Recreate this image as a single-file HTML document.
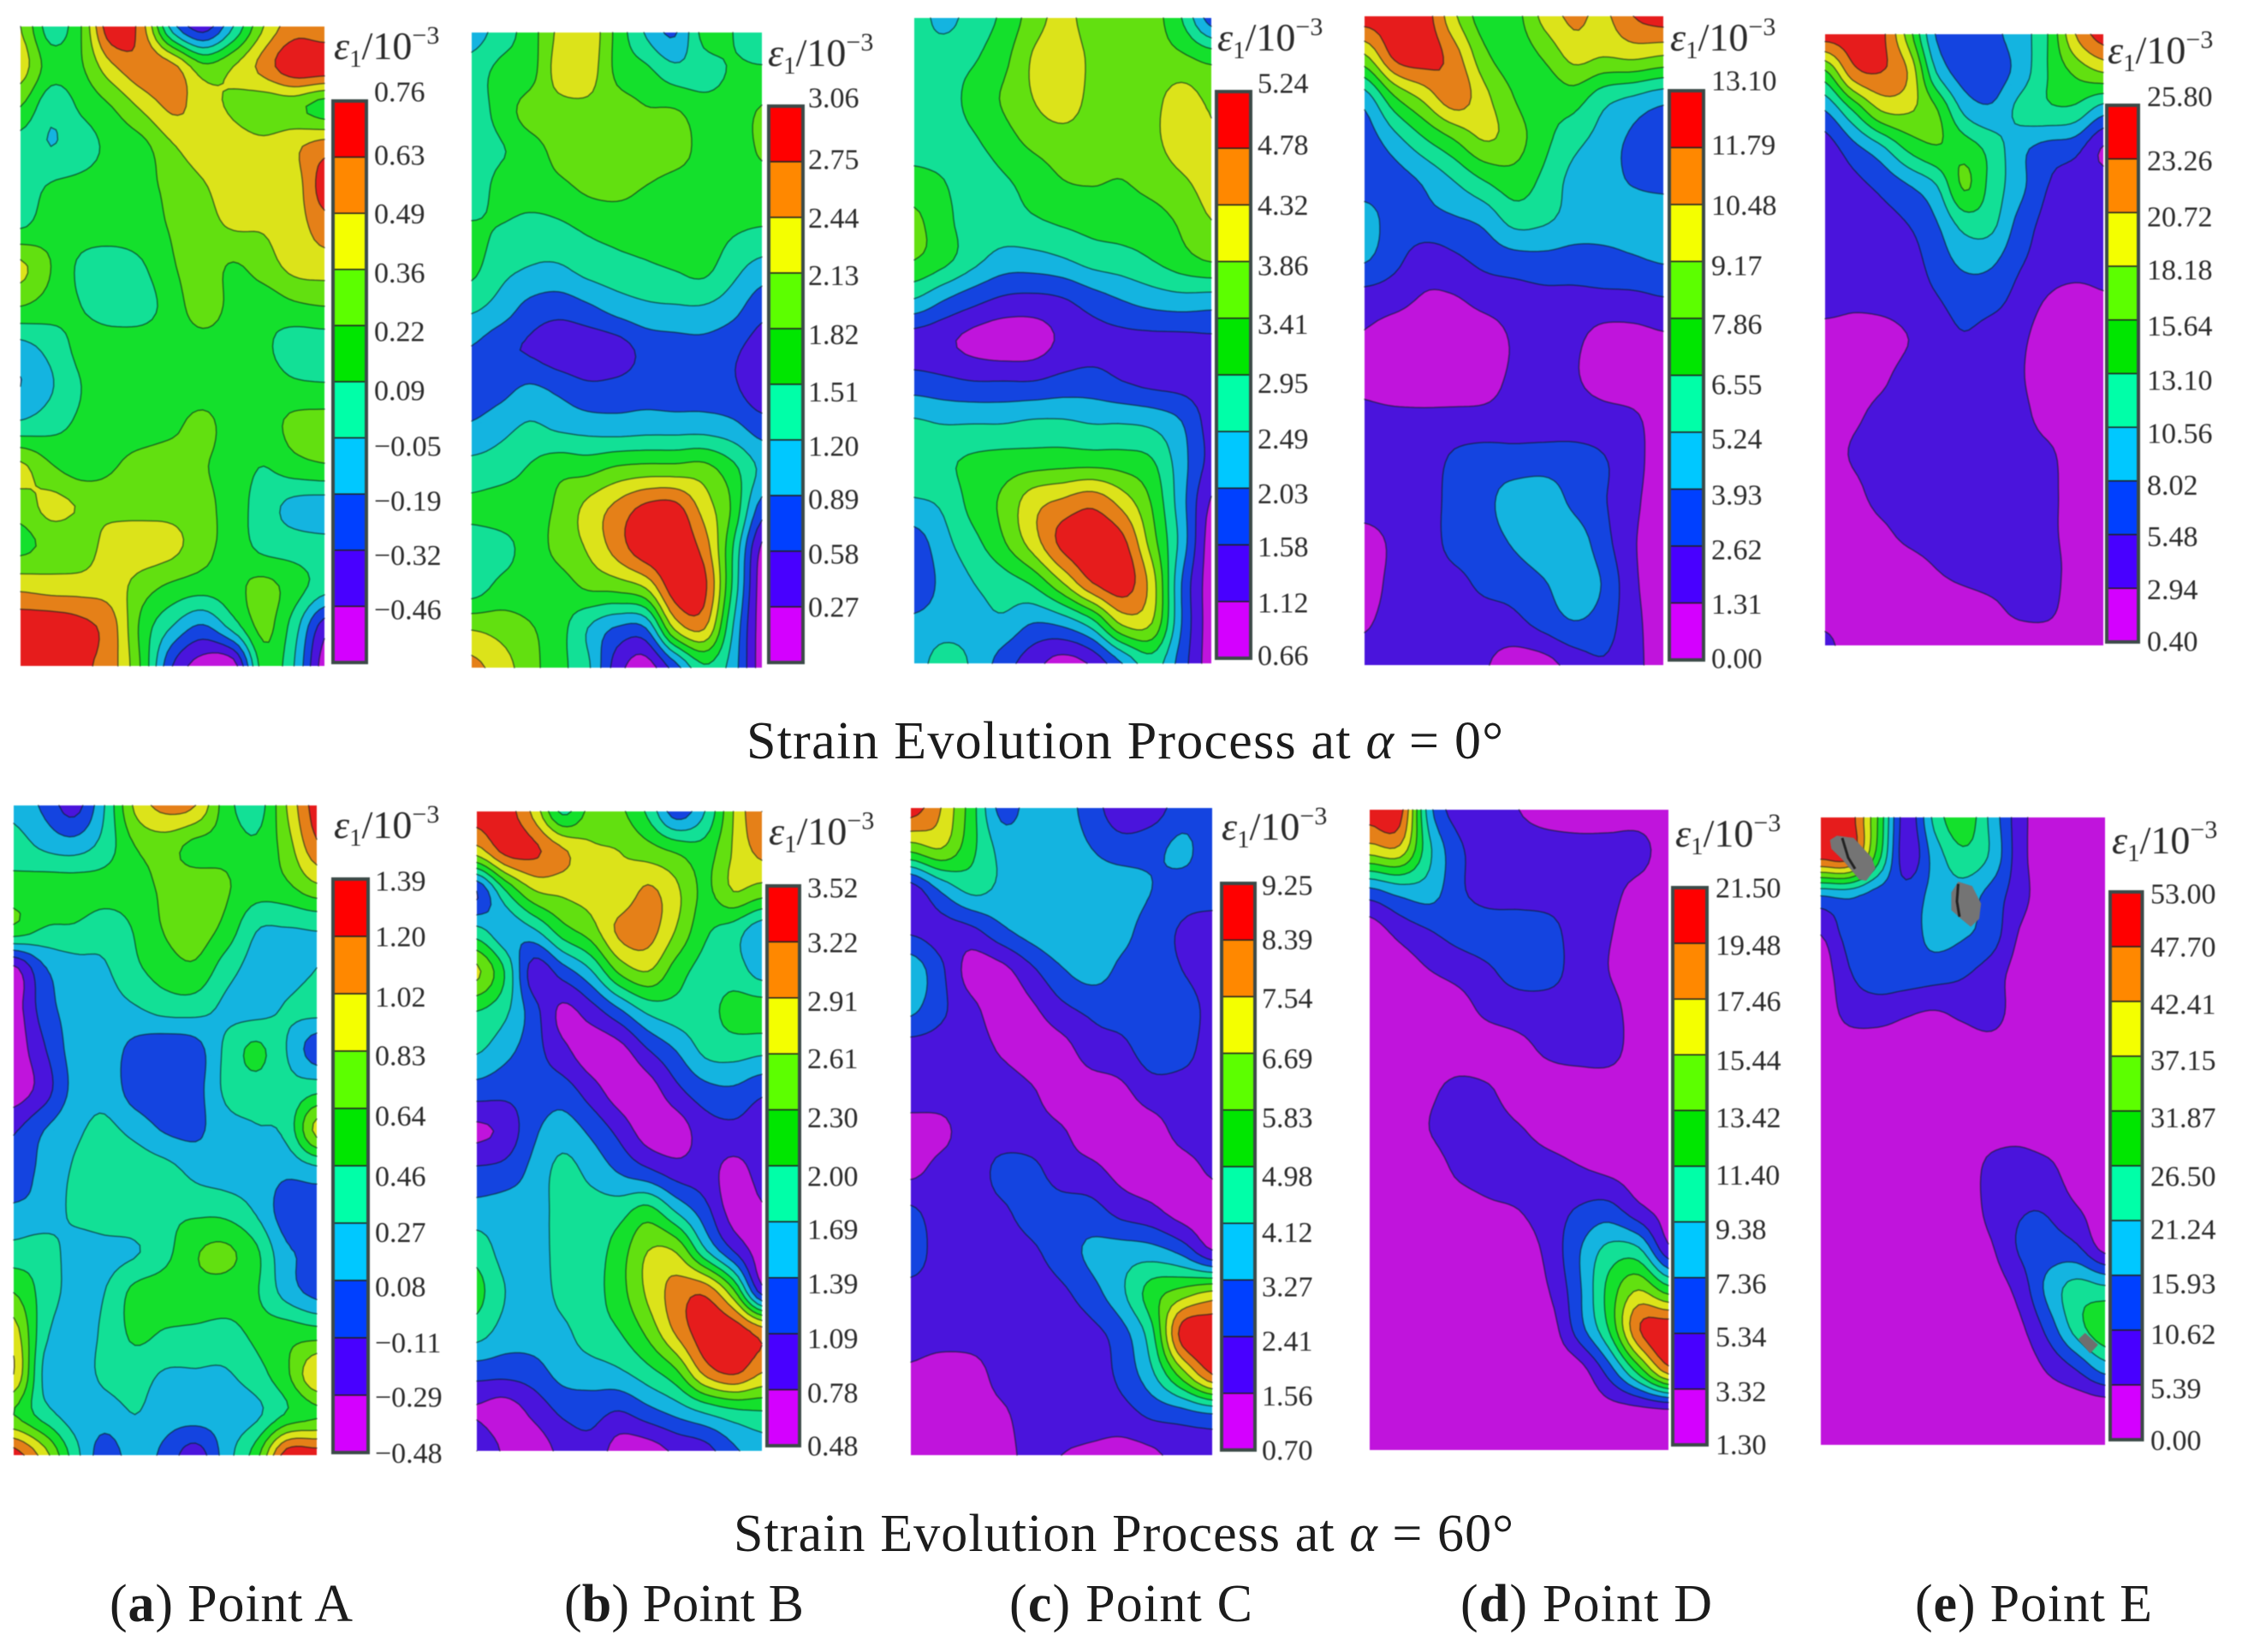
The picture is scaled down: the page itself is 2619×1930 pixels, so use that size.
<!DOCTYPE html>
<html lang="en">
<head>
<meta charset="utf-8">
<title>Strain Evolution Process</title>
<style>
html,body{margin:0;padding:0;background:#fff;width:2619px;height:1930px;overflow:hidden}
svg{display:block}
text{font-family:"Liberation Serif","DejaVu Serif",serif}
.tick{font-size:34px;fill:#2b2b2b}
.unit{font-size:46px;fill:#2b2b2b}
.cap{font-size:62px;fill:#1c1c1c}
</style>
</head>
<body>
<svg id="figure" xmlns="http://www.w3.org/2000/svg" width="2619" height="1930" viewBox="0 0 2619 1930">
  <rect width="2619" height="1930" fill="#fff"/>
  <g id="panels" style="filter:blur(.6px)"></g>
  <g id="bars" style="filter:blur(.4px)"></g>
  <g style="filter:blur(.6px)">
    <polygon points="2137.7,981.4 2145.8,976.3 2165.4,978.9 2186.5,1001.9 2190.8,1014.7 2180,1029 2171.9,1027.5 2152.3,1004.4 2139.3,991.6" fill="#747474"/>
    <polyline points="2152,979 2159,1002 2167,1015" fill="none" stroke="#222" stroke-width="3"/>
    <polygon points="2279.4,1042.8 2287.5,1030 2303.8,1035.1 2314.2,1055.6 2312,1073.5 2302.2,1082.7 2290.8,1073.5 2279.4,1063.3" fill="#747474"/>
    <polyline points="2287.5,1032.6 2286,1053 2289,1071" fill="none" stroke="#222" stroke-width="3"/>
    <polygon points="2427.6,1564.8 2435.7,1557.1 2451,1571 2441.6,1581.2" fill="#6e6e6e"/>
  </g>
  <g>
    <text class="cap" x="872" y="886" textLength="884">Strain Evolution Process at <tspan font-style="italic">α</tspan> = 0°</text>
    <text class="cap" x="857" y="1812" textLength="911">Strain Evolution Process at <tspan font-style="italic">α</tspan> = 60°</text>
    <text class="cap" x="128" y="1894" textLength="284">(<tspan font-weight="bold">a</tspan>) Point A</text>
    <text class="cap" x="659" y="1894" textLength="280">(<tspan font-weight="bold">b</tspan>) Point B</text>
    <text class="cap" x="1179" y="1894" textLength="284">(<tspan font-weight="bold">c</tspan>) Point C</text>
    <text class="cap" x="1706" y="1894" textLength="294">(<tspan font-weight="bold">d</tspan>) Point D</text>
    <text class="cap" x="2237" y="1894" textLength="277">(<tspan font-weight="bold">e</tspan>) Point E</text>
  </g>
</svg>
<script>
// Colorbar tick labels, top to bottom (strain / 10^-3)
const ticksA0=[0.76,0.63,0.49,0.36,0.22,0.09,-0.05,-0.19,-0.32,-0.46];
const ticksB0=[3.06,2.75,2.44,2.13,1.82,1.51,1.20,0.89,0.58,0.27];
const ticksC0=[5.24,4.78,4.32,3.86,3.41,2.95,2.49,2.03,1.58,1.12,0.66];
const ticksD0=[13.10,11.79,10.48,9.17,7.86,6.55,5.24,3.93,2.62,1.31,0.00];
const ticksE0=[25.80,23.26,20.72,18.18,15.64,13.10,10.56,8.02,5.48,2.94,0.40];
const ticksA60=[1.39,1.20,1.02,0.83,0.64,0.46,0.27,0.08,-0.11,-0.29,-0.48];
const ticksB60=[3.52,3.22,2.91,2.61,2.30,2.00,1.69,1.39,1.09,0.78,0.48];
const ticksC60=[9.25,8.39,7.54,6.69,5.83,4.98,4.12,3.27,2.41,1.56,0.70];
const ticksD60=[21.50,19.48,17.46,15.44,13.42,11.40,9.38,7.36,5.34,3.32,1.30];
const ticksE60=[53.00,47.70,42.41,37.15,31.87,26.50,21.24,15.93,10.62,5.39,0.00];

// Strain fields, expressed as colour-band position
// (0 = lowest magenta band ... 10 = top of red band), top row first.
const fieldA0=[
[7,4.5,6,9.8,8.4,3.5,1.5,4,7,8.5,8.2],
[7.5,5.5,5.9,7.8,8.8,8.3,6.3,7,8.4,9.8,9.8],
[6,4.3,5.2,6,7.2,8.2,7.5,6.8,6.3,6.3,5.5],
[4.5,4,4.5,5.3,5.7,6.9,7.5,7.5,7.3,7.8,8.5],
[4.5,5.1,5.3,5.5,5.7,6.3,6.9,7.5,7.5,7.5,9.5],
[4.9,5.5,5.5,5.5,5.6,6.1,6.6,7.1,7.1,7.5,8.5],
[7.2,6,4.8,4.5,4.9,5.9,6.5,5.9,6.5,7.3,7.5],
[6,5.5,5,4.5,4.6,5.5,6.5,5.7,5.4,5.8,6],
[3.7,4.4,5.3,5.5,5.5,5.5,5.6,5.5,5.2,4.5,4.5],
[3,3.9,5,5.5,5.5,5.5,5.5,5.5,5.5,5.2,5.1],
[4.3,4.7,5.2,5.5,5.5,5.8,6.3,5.5,5.5,6.3,6.5],
[7.2,6.1,5.5,5.9,6.4,6.5,6.1,5.5,5,5.6,5.9],
[6.5,7.3,6.9,6.6,6.6,6.6,6.3,5.5,4.5,3.7,3.5],
[5.7,6.3,6.4,7.5,7.6,7.3,6.3,5.6,4.7,4.5,4.3],
[7.7,7.5,7.5,7.5,6.5,5.8,5.5,5.7,6.3,5.5,4.5],
[9.7,9.7,9.3,8.4,5.7,4,2.9,4.5,6.3,4.5,1.5],
[9.7,9.7,9.2,8.4,5.8,2,0.5,0.5,5.5,4,0.5]];
const fieldB0=[
[3.5,4.5,5.5,7.2,7.7,5.7,3.9,2.9,5.3,5,4.2],
[4.5,5.3,5.6,7.4,7.5,5.8,5.3,4.4,4.6,5.1,5.2],
[4.4,5.4,6.4,6.6,6.7,6.5,6.1,6.1,5.5,5.5,6.1],
[4.4,4.9,5.5,6.3,6.5,6.6,6.6,6.4,5.7,5.5,6.1],
[4.3,5.4,5.5,5.7,6.1,6.2,5.9,5.5,5.5,5.5,5.5],
[5.2,4.9,4.5,4.7,5.1,5.3,5.4,5.5,5.5,5.1,4.9],
[5.2,4.3,3.9,3.8,4.3,4.6,4.8,5,5.2,4.3,3.5],
[4.1,3.5,2.6,2.3,2.7,3.3,3.7,3.8,3.8,3.3,2.3],
[2.9,2.2,1.9,1.4,1.3,1.5,2.3,2.5,2.6,2.2,1.5],
[2.5,2.7,3.2,2.8,2.3,2.4,2.6,2.5,2.5,2.2,1.3],
[3.2,3.7,4.2,3.9,3.7,3.6,3.7,3.7,3.7,3.4,2.6],
[4.4,4.6,5.1,5.7,5.7,6.2,6.4,6.4,6.4,5.3,3.8],
[5.2,5.4,5.5,6.2,7.3,8.3,9.3,9.4,7.6,5.8,2.5],
[4.5,4.7,5.4,6.3,7.1,8.4,9.7,9.8,8.6,5,0.8],
[4.5,5.3,5.4,5.5,6.1,6.3,7,9.6,9.3,4.8,0.5],
[6.9,6.6,6.1,5.4,4,2.9,3,7.2,8.1,4,0.5],
[8.3,7.5,6.4,5.3,4.2,1.5,0.5,2.5,4.8,3.5,0.5]];
const fieldC0=[
[4.5,3.7,4.5,5.2,6.5,7.3,6.5,6.5,6.4,5,2.5],
[4.3,4.5,4.9,5.7,7.1,7.6,6.8,6.5,6.4,6.2,5.7],
[4.4,4.5,5.4,6.1,7,7.6,6.7,6.5,6.7,7.4,6.8],
[4.5,4.5,4.9,5.6,6.3,6.6,6.5,6.5,6.8,7.4,7.1],
[5.3,5,4.5,4.9,5.4,6,6.1,6,6.4,6.9,7.3],
[6.2,5.3,4.5,4.6,4.9,5.2,5.4,5.5,5.6,6.2,7],
[6,5.3,4.3,3.6,3.6,3.9,4.4,4.6,5,5.6,6.1],
[3.9,3,2.3,1.8,1.7,1.9,2.5,3,3.4,3.6,3.5],
[1.5,1.2,0.7,0.4,0.5,1.2,1.6,1.7,1.7,1.7,1.8],
[2.4,2.2,2,2,2,2.3,2.4,2,1.7,1.6,1.5],
[4.1,3.9,3.9,3.9,4.1,4.1,3.9,3.9,3.7,3,1.6],
[4.4,4.8,5.2,5.4,5.5,5.6,5.6,5.5,5.1,3.4,1.7],
[3.9,4.2,5.4,6.2,7.6,8.2,8.7,7.6,5.9,3.4,0.9],
[2.5,3.7,4.7,5.9,7.5,9.3,9.7,9.3,6.5,3.6,0.5],
[2.3,3.3,4,4.5,5.2,7,9,9.6,7.5,3,0.5],
[3.2,3.5,3.7,3.8,3,3.3,4.6,7.2,7,3,0.5],
[3.5,4.5,3.8,2.5,1.4,0.6,1.2,3,4.5,2.5,0.5]];
const fieldD0=[
[9.5,9.5,9.5,7.2,5.5,5.6,7.3,8.2,7.8,9,9.5],
[6.8,9.2,9.5,8.5,6.3,5.5,6.1,7.3,7,7.2,6.9],
[3.5,5.9,7.3,8.6,7.3,6,5.3,5.5,4.4,3.9,3.4],
[2.5,3.7,5,6.1,7.1,6.5,5.3,4.4,3.6,2.8,2.2],
[2.4,2.6,3.2,4.1,5.1,5.6,4.8,3.7,3.3,2.9,2.7],
[3.4,2.6,2.7,2.9,3.3,4.4,4.2,3.6,3.4,3.4,3.4],
[3.1,2.3,1.5,1.8,2.3,2.6,2.7,2.6,2.7,2.9,3.1],
[1.5,1.3,0.9,0.9,1.3,1.5,1.7,1.7,1.7,1.7,1.9],
[0.9,0.5,0.4,0.4,0.5,1.1,1.4,1.2,0.6,0.6,0.8],
[0.8,0.5,0.4,0.4,0.6,1.2,1.4,1.1,0.7,0.5,0.5],
[1.3,1.3,1.3,1.4,1.4,1.5,1.5,1.5,1.4,1.2,0.5],
[1.5,1.5,1.5,2.2,2.5,2.5,2.6,2.5,2.1,1.3,0.6],
[1.5,1.5,1.6,2.3,2.7,3.5,3.6,2.8,2.1,1.2,0.5],
[0.5,1.2,1.5,2.3,2.5,3.1,3.6,3.6,2.4,1.1,0.5],
[0.5,1.3,1.5,1.7,2.2,2.4,2.9,3.6,2.9,1.2,0.5],
[0.9,1.4,1.5,1.5,1.5,1.7,2.3,2.9,2.5,1.3,0.5],
[1.4,1.4,1.4,1.4,1.1,0.5,0.6,1.4,1.9,1.3,0.5]];
const fieldE0=[
[9.5,9.5,9.3,6.5,2.9,2.5,2.8,3.5,5,8,9.5],
[5.8,8.6,9,7.9,4,2.5,2.5,3.4,5,6.2,7],
[3,5,7,7.1,6.1,3.8,3.2,4.3,4.8,4.7,3.4],
[1.5,2.6,3.7,5.2,5.9,5.6,4.6,3.3,2.6,2.3,0.9],
[1.5,1.7,2.2,2.9,3.9,6.1,4.6,3.3,2,1.5,1.5],
[1.5,1.5,1.7,2,2.9,4.3,4.2,2.6,1.7,1.5,1.5],
[1.5,1.5,1.5,1.6,2.4,3.2,3.1,2.1,1.6,1.5,1.5],
[1.4,1.2,1.3,1.5,1.9,2.4,2.3,1.6,0.9,0.5,0.8],
[0.5,0.5,0.5,1,1.5,1.9,1.5,1.2,0.5,0.4,0.4],
[0.5,0.5,0.8,1.4,1.5,1.5,1.5,1.1,0.5,0.4,0.4],
[0.5,0.8,1.3,1.5,1.5,1.5,1.5,1.3,0.6,0.4,0.4],
[0.5,1.1,1.5,1.6,1.6,1.6,1.6,1.5,1.2,0.5,0.4],
[0.5,0.7,1.4,1.5,1.6,1.6,1.6,1.5,1.3,0.5,0.4],
[0.4,0.4,0.8,1.3,1.5,1.6,1.6,1.6,1.3,0.5,0.4],
[0.4,0.4,0.4,0.6,1,1.4,1.6,1.6,1.4,0.6,0.4],
[0.4,0.4,0.4,0.4,0.4,0.5,0.8,1.3,1.3,0.4,0.4],
[1.3,0.4,0.4,0.4,0.4,0.4,0.4,0.4,0.4,0.4,0.4]];
const fieldA60=[
[3.7,2.8,1.6,4,7.2,8.3,8,5.5,4.5,7,9.5],
[4.5,3.8,3.5,4.4,6,6.4,5.7,5.7,5.2,6.5,8.8],
[5.3,5.5,5.5,5.4,5.6,6.2,6.5,6.1,5.5,5.8,6.8],
[5.9,5,4.9,4.5,5.1,6.1,6.5,5.7,4.1,4,4.1],
[0.8,2.9,3.6,3.9,4.8,5.5,5.8,4.5,3.6,3.5,4],
[0.5,2.5,3.4,3.6,3.9,4.4,4.4,3.8,3.6,4.1,4.4],
[0.4,1.9,3.4,3.5,2.7,2.3,2.6,4.2,5.2,4,2.4],
[0.4,1.5,3.3,3.7,2.5,2.2,2.6,4.2,4.6,4.3,4.7],
[1.9,3,3.8,4.2,3.7,2.9,2.8,3.6,3.9,4.3,7.3],
[2.4,3.3,4.1,4.5,4.6,4.4,3.7,3.5,3.5,3.2,3.6],
[3.2,3.4,4.2,4.5,4.7,4.8,4.8,4.7,3.9,2.5,2.5],
[4.4,4.5,3.6,3.7,3.9,4.7,5.9,6.2,5.2,3.2,2.9],
[6,4.6,3.7,4,5.3,5.5,5.6,5.5,5.1,3.6,2.7],
[7.5,4.3,3.5,4.2,5.2,4.9,4.8,4.7,5.2,5.6,5.5],
[8,3.8,3.5,4.2,4.4,3.9,3.9,3.9,4.6,5.8,7.9],
[6,4.5,3.5,3.5,4,3.5,3.5,3.5,3.8,5.1,5.8],
[9.5,7.5,4.5,2.5,3.5,2.7,1.5,3.5,5.6,9.5,9.5]];
const fieldB60=[
[9.5,9.5,7.7,4.8,6.3,6.2,4.8,2.5,4,7,9],
[7.5,9.3,9.2,8.2,7.2,7,6.5,5.9,5.5,7.1,8.3],
[2,4.9,6.9,7.2,7.3,7.2,8.2,7.2,5.8,7,6.5],
[4.4,3.3,3.8,5.5,6.5,8.2,8.4,6.9,5.2,4.5,3.3],
[7.2,4.9,1.5,2.5,3.9,6.2,7,5.5,4.6,4.5,3.6],
[5,4.2,2.4,0.8,1.5,2.8,4.2,4.6,4.6,5.4,5.5],
[4.1,3.3,2.4,1.3,0.5,0.6,1.9,3,4.2,4.4,4.2],
[2.5,2.3,2.4,2.5,1.5,0.5,0.5,1.7,2.6,2.8,2.2],
[0.8,1.3,2.8,3.5,2.8,1.7,0.5,0.5,1.5,1.7,1.4],
[2.2,2.4,3.3,4.3,3.7,2.9,2.2,1.5,1.4,0.7,1.3],
[3.4,3.5,3.5,4.4,4.4,4.6,5.4,3.9,2.4,0.6,0.9],
[4.6,3.6,3.5,4.4,4.5,5.5,7,6.9,4.2,2,0.5],
[5.3,4,3.5,4.3,4.6,5.6,7.2,8.4,8.7,6.2,1.5],
[4.5,3.6,3.5,3.8,4.5,5,6.3,8.2,9.6,9.7,8.5],
[2.5,2.4,2.6,3.4,3.6,3.9,4.7,5.9,8.4,9.3,8.1],
[0.9,0.5,1.3,2.2,2.4,2,2.7,3.4,4.2,4.8,5],
[2,0.8,0.4,1.3,1.7,0.5,0.5,1.2,1.6,2.8,3.5]];
const fieldC60=[
[9.5,8,5.5,2.7,3.4,3.4,2.5,1.3,1.5,2.5,2.6],
[6.4,7,5.3,3.7,3.5,3.5,3,2.5,2.7,3.2,2.5],
[1.5,3.2,4.3,3.8,3.5,3.5,3.5,3.5,3,2.6,2.7],
[1.8,1.6,1.8,2.8,3.5,3.9,3.5,3.3,2.5,1.9,1.4],
[3.6,2.2,0.6,0.7,1.8,2.9,3.4,2.8,2.5,2,1.5],
[3.2,2.2,1.3,0.5,0.8,1.7,2.2,2.4,2.5,2.5,1.7],
[1.5,1.5,1.5,0.9,0.5,0.6,1.5,1.7,2.5,2.4,1.5],
[1.5,1.4,1.4,1.5,1.1,0.5,0.5,0.8,1.5,1.5,1.4],
[0.6,0.8,1.4,1.5,1.4,1.1,0.5,0.5,0.6,1.3,1.4],
[0.8,1.3,1.4,2.3,2.3,1.5,1.3,0.7,0.5,0.6,1.1],
[2.2,1.5,1.5,1.8,2.4,2.5,2.4,1.7,1.3,0.6,0.5],
[2.6,1.5,1.5,1.5,1.8,2.5,3.2,3.5,3.5,2.8,1.2],
[1.6,1.5,1.5,1.5,1.5,1.8,2.6,3.8,5.5,6.5,7.3],
[1.5,1.4,1.5,1.5,1.5,1.5,1.7,2.6,4.7,9.4,9.8],
[0.8,0.5,0.5,1.4,1.5,1.5,1.5,2.3,3.8,6.5,9],
[0.5,0.4,0.5,0.8,1.5,1.5,1.5,1.6,2.2,2.5,2.9],
[0.4,0.4,0.4,0.6,1.3,1,0.8,0.6,0.8,1.4,1.5]];
const fieldD60=[
[9.5,9.5,3.4,1.5,1.5,1,0.5,0.4,0.4,0.4,0.4],
[7.5,7.7,4.2,2.2,1.5,1.5,1.5,1.4,1.4,1.4,0.4],
[2.8,3.5,3.5,2.2,1.5,1.5,1.5,1.5,1.3,0.7,0.4],
[0.5,1.4,2,2.4,2.5,2.5,2.3,1.5,1.1,0.4,0.4],
[0.4,0.5,1,1.4,1.9,2.4,2.4,1.5,1,0.4,0.4],
[0.4,0.4,0.4,0.6,1.3,1.5,1.5,1.5,1.3,0.6,0.4],
[0.4,0.4,0.4,0.4,0.4,0.7,1.2,1.4,1.4,0.5,0.4],
[0.4,0.4,0.8,1.3,1.1,0.4,0.4,0.4,0.4,0.4,0.4],
[0.4,0.4,1,1.5,1.5,1.1,0.6,0.4,0.4,0.4,0.4],
[0.4,0.4,0.5,1.2,1.5,1.5,1.4,1.1,0.8,0.5,0.4],
[0.4,0.4,0.4,0.5,0.8,1,1.5,2.1,2.4,1.3,0.6],
[0.4,0.4,0.4,0.4,0.4,0.5,1.3,2.9,4.3,4.2,1.3],
[0.4,0.4,0.4,0.4,0.4,0.4,1,2.8,5.3,7,5.5],
[0.4,0.4,0.4,0.4,0.4,0.4,0.5,2.5,5,8.9,9.8],
[0.4,0.4,0.4,0.4,0.4,0.4,0.4,0.6,2.5,5.5,8.6],
[0.4,0.4,0.4,0.4,0.4,0.4,0.4,0.4,0.6,0.7,0.9],
[0.4,0.4,0.4,0.4,0.4,0.4,0.4,0.4,0.4,0.4,0.4]];
const fieldE60=[
[9.5,9.5,6,1.5,4.3,5.7,3.7,1.4,0.4,0.4,0.4],
[9.3,9.3,5.5,1.4,3.4,4.7,3.8,1.4,0.4,0.4,0.4],
[3,3.2,2.5,2.4,3.3,3.5,2.6,1.4,0.4,0.4,0.4],
[1,2.4,2.5,2.5,3.3,3.1,2.5,0.9,0.4,0.4,0.4],
[0.4,1.9,2.5,2.5,2.4,2.1,1.5,0.6,0.4,0.4,0.4],
[0.4,1.3,1.4,1.1,0.9,1.2,1.4,0.5,0.4,0.4,0.4],
[0.4,0.4,0.4,0.4,0.4,0.4,0.5,0.4,0.4,0.4,0.4],
[0.4,0.4,0.4,0.4,0.4,0.4,0.4,0.4,0.4,0.4,0.4],
[0.4,0.4,0.4,0.4,0.4,0.4,0.6,0.7,0.4,0.4,0.4],
[0.4,0.4,0.4,0.4,0.4,0.4,1.3,1.5,1.3,0.4,0.4],
[0.4,0.4,0.4,0.4,0.4,0.4,1.3,1.9,1.9,1.1,0.4],
[0.4,0.4,0.4,0.4,0.4,0.4,0.9,2.1,2.4,2.2,0.7],
[0.4,0.4,0.4,0.4,0.4,0.4,0.5,1.4,3.3,4.4,4.2],
[0.4,0.4,0.4,0.4,0.4,0.4,0.4,0.8,2.4,4.5,5.8],
[0.4,0.4,0.4,0.4,0.4,0.4,0.4,0.4,1.2,2.2,3.6],
[0.4,0.4,0.4,0.4,0.4,0.4,0.4,0.4,0.4,0.4,0.5],
[0.4,0.4,0.4,0.4,0.4,0.4,0.4,0.4,0.4,0.4,0.4]];

const NS='http://www.w3.org/2000/svg';
const panelStyleColors=['#c014dc','#4a14dc','#1444e0','#14b4e0','#12e096','#14e02c','#62e010','#dce31a','#e58018','#e61c1c'];
const barStyleColors=['#d400ff','#4800ff','#0040ff','#00c8ff','#00ffa8','#00e600','#5cff00','#f4ff00','#ff8800','#ff0000'];
const UP=6;
const LABEL_SCALE=1.6756;

const layouts=[
{id:'a0',field:fieldA0,ticks:ticksA0,x:24,y:31,w:355,h:747,bx:389,by:118,bw:39,bh:656,lx:437,ux:390,uy:69,
 labelRows:[64,108,149,190,231,272,311,349,387,425]},
{id:'b0',field:fieldB0,ticks:ticksB0,x:551,y:38,w:339,h:742,bx:898,by:124,bw:40,bh:650,lx:944,ux:897,uy:77,
 labelRows:[68,111,152,192,233,273,311,348,386,423]},
{id:'c0',field:fieldC0,ticks:ticksC0,x:1068,y:21,w:347,h:754,bx:1421,by:107,bw:40,bh:662,lx:1469,ux:1422,uy:59,
 labelRows:[58,101,143,185,226,267,306,344,381,420,457]},
{id:'d0',field:fieldD0,ticks:ticksD0,x:1594,y:19,w:349,h:758,bx:1950,by:106,bw:40,bh:665,lx:1999,ux:1951,uy:59,
 labelRows:[56,101,143,185,226,268,306,345,383,421,459]},
{id:'e0',field:fieldE0,ticks:ticksE0,x:2132,y:40,w:325,h:714,bx:2461,by:123,bw:37,bh:627,lx:2508,ux:2462,uy:74,
 labelRows:[67,112,151,188,227,265,302,338,374,411,447]},
{id:'a60',field:fieldA60,ticks:ticksA60,x:16,y:941,w:354,h:759,bx:389,by:1027,bw:41,bh:670,lx:438,ux:390,uy:979,
 labelRows:[614,653,695,736,778,820,859,897,936,974,1013]},
{id:'b60',field:fieldB60,ticks:ticksB60,x:557,y:948,w:333,h:747,bx:896,by:1035,bw:38,bh:654,lx:943,ux:898,uy:986.5,
 labelRows:[619,657,698,738,779,820,857,895,933,971,1008]},
{id:'c60',field:fieldC60,ticks:ticksC60,x:1064,y:944,w:352,h:756,bx:1427,by:1032,bw:39,bh:662,lx:1474,ux:1427,uy:981,
 labelRows:[617,655,696,738,779,820,859,897,935,973,1011]},
{id:'d60',field:fieldD60,ticks:ticksD60,x:1600,y:946,w:349,h:748,bx:1954,by:1037,bw:40,bh:651,lx:2004,ux:1957,uy:989,
 labelRows:[619,659,698,739,779,819,857,895,932,970,1007]},
{id:'e60',field:fieldE60,ticks:ticksE60,x:2127,y:955,w:332,h:733,bx:2465,by:1042,bw:37.5,bh:640,lx:2512,ux:2467,uy:997,
 labelRows:[623,660,700,739,779,820,857,895,930,968,1004]}
];

function cubic(a,b,c,d,t){
  return b+0.5*t*(c-a+t*(2*a-5*b+4*c-d+t*(3*(b-c)+d-a)));
}
function sampleField(field,u,v){
  const rows=field.length,cols=field[0].length;
  const cl=(n,m)=>Math.max(0,Math.min(m-1,n));
  const i=Math.min(Math.floor(u),cols-2),j=Math.min(Math.floor(v),rows-2);
  const fu=u-i,fv=v-j,vals=[];
  for(let r=-1;r<=2;r++){
    const row=field[cl(j+r,rows)];
    vals.push(cubic(row[cl(i-1,cols)],row[cl(i,cols)],row[cl(i+1,cols)],row[cl(i+2,cols)],fu));
  }
  return cubic(vals[0],vals[1],vals[2],vals[3],fv);
}
function bandPaths(p,level,grid,nx,ny,xScale,yScale){
  let fill='',line='';
  const f=n=>n.toFixed(1);
  for(let j=0;j<ny;j++){
    let run=-1;
    const y0=yScale(j),y1=yScale(j+1);
    for(let i=0;i<=nx;i++){
      const full=i<nx&&grid[j][i]>=level&&grid[j][i+1]>=level&&grid[j+1][i]>=level&&grid[j+1][i+1]>=level;
      if(full){if(run<0)run=i;continue;}
      if(run>=0){
        fill+='M'+f(xScale(run))+' '+f(y0)+'H'+f(xScale(i))+'V'+f(y1)+'H'+f(xScale(run))+'Z';
        run=-1;
      }
      if(i===nx)break;
      const corners=[[i,j],[i+1,j],[i+1,j+1],[i,j+1]];
      const poly=[],cross=[];
      for(let c=0;c<4;c++){
        const a=corners[c],b=corners[(c+1)%4];
        const va=grid[a[1]][a[0]],vb=grid[b[1]][b[0]];
        const ax=xScale(a[0]),ay=yScale(a[1]),bx=xScale(b[0]),by=yScale(b[1]);
        if(va>=level)poly.push([ax,ay]);
        if((va>=level)!==(vb>=level)){
          const t=(level-va)/(vb-va);
          const q=[ax+(bx-ax)*t,ay+(by-ay)*t];
          poly.push(q);cross.push(q);
        }
      }
      if(poly.length>2){
        fill+='M'+poly.map(q=>f(q[0])+' '+f(q[1])).join('L')+'Z';
      }
      for(let c=0;c+1<cross.length;c+=2){
        line+='M'+f(cross[c][0])+' '+f(cross[c][1])+'L'+f(cross[c+1][0])+' '+f(cross[c+1][1]);
      }
    }
  }
  return {fill,line};
}

function drawPanel(p,parent){
  const rows=p.field.length,cols=p.field[0].length;
  const nx=(cols-1)*UP,ny=(rows-1)*UP;
  const xScale=i=>p.x+i/nx*p.w;
  const yScale=j=>p.y+j/ny*p.h;
  const grid=[];
  for(let j=0;j<=ny;j++){
    const r=[];
    for(let i=0;i<=nx;i++)r.push(sampleField(p.field,i/UP,j/UP));
    grid.push(r);
  }
  const g=document.createElementNS(NS,'g');
  
  
  const base=document.createElementNS(NS,'rect');
  
  
  base.setAttribute('x',p.x);
  base.setAttribute('y',p.y);
  base.setAttribute('width',p.w);
  base.setAttribute('height',p.h);
  base.setAttribute('fill',panelStyleColors[0]);
  g.appendChild(base);
  const lines=[];
  for(let k=1;k<panelStyleColors.length;k++){
    const d=bandPaths(p,k,grid,nx,ny,xScale,yScale);
    const path=document.createElementNS(NS,'path');
    
    
    path.setAttribute('d',d.fill);
    path.setAttribute('fill',panelStyleColors[k]);
    g.appendChild(path);
    lines.push(d.line);
  }
  lines.forEach((d,idx)=>{
    const path=document.createElementNS(NS,'path');
    
    
    path.setAttribute('d',d);
    path.setAttribute('fill','none');
    path.setAttribute('stroke','rgba(10,30,30,.6)');
    path.setAttribute('stroke-width','1.5');
    path.setAttribute('stroke-linecap','round');
    g.appendChild(path);
  });
  parent.appendChild(g);
}

function drawBar(p,parent){
  const g=document.createElementNS(NS,'g');
  
  
  const n=barStyleColors.length;
  const bandY=i=>p.by+i/n*p.bh;
  for(let i=0;i<n;i++){
    const r=document.createElementNS(NS,'rect');
    
    
    r.setAttribute('x',p.bx);
    r.setAttribute('y',bandY(i));
    r.setAttribute('width',p.bw);
    r.setAttribute('height',p.bh/n);
    r.setAttribute('fill',barStyleColors[n-1-i]);
    r.setAttribute('stroke','#222');
    r.setAttribute('stroke-width','1.5');
    g.appendChild(r);
  }
  const frame=document.createElementNS(NS,'rect');
  
  
  frame.setAttribute('x',p.bx);
  frame.setAttribute('y',p.by);
  frame.setAttribute('width',p.bw);
  frame.setAttribute('height',p.bh);
  frame.setAttribute('fill','none');
  frame.setAttribute('stroke','#3c4a48');
  frame.setAttribute('stroke-width','4');
  g.appendChild(frame);
  p.ticks.forEach((v,i)=>{
    const t=document.createElementNS(NS,'text');
    
    
    t.setAttribute('class','tick');
    t.setAttribute('x',p.lx);
    t.setAttribute('y',p.labelRows[i]*LABEL_SCALE+11.5);
    t.textContent=v.toFixed(2).replace('-','\u2212');
    g.appendChild(t);
  });
  const u=document.createElementNS(NS,'text');
  
  
  u.setAttribute('class','unit');
  u.setAttribute('x',p.ux);
  u.setAttribute('y',p.uy);
  const parts=[['\u03b5','italic',null,0],['1',null,'29px',9],['/10',null,null,-9],['\u22123',null,'30px',-18]];
  parts.forEach(s=>{
    const sp=document.createElementNS(NS,'tspan');
    if(s[1])sp.setAttribute('font-style',s[1]);
    if(s[2])sp.setAttribute('font-size',s[2]);
    if(s[3])sp.setAttribute('dy',s[3]);
    sp.textContent=s[0];
    u.appendChild(sp);
  });
  g.appendChild(u);
  parent.appendChild(g);
}

const panelsRoot=document.getElementById('panels');
const barsRoot=document.getElementById('bars');
layouts.forEach(p=>{drawPanel(p,panelsRoot);drawBar(p,barsRoot);});
</script>
</body>
</html>
